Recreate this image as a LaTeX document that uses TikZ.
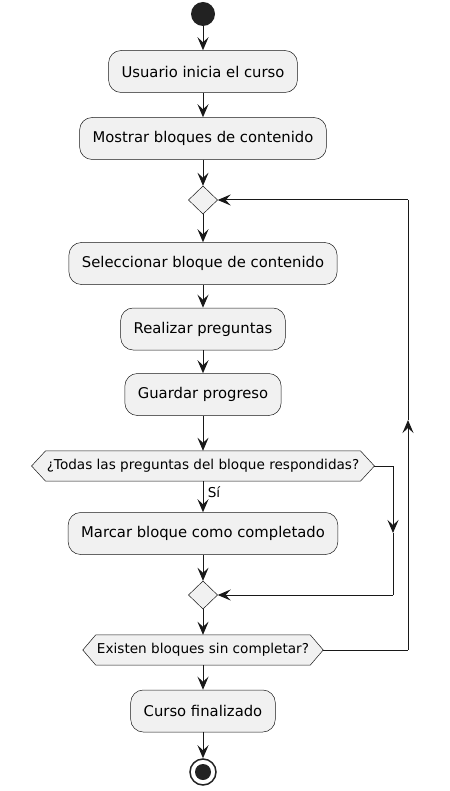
\documentclass[tikz,border=0pt]{standalone}
\usepackage{fontspec}
\setmainfont{DejaVu Sans}
\usetikzlibrary{arrows.meta,backgrounds}
\definecolor{ln}{HTML}{181818}
\definecolor{bx}{HTML}{F1F1F1}
\definecolor{dk}{HTML}{222222}
\tikzset{
  actbox/.style={draw=ln, line width=0.5pt, fill=bx, rounded corners=12.5pt, minimum height=42pt, inner xsep=13pt, inner ysep=0pt, font=\fontsize{14.8}{17}\selectfont},
  hexlabel/.style={inner xsep=1pt, inner ysep=0pt, minimum height=30pt, font=\fontsize{13.6}{16}\selectfont},
  hexline/.style={draw=ln, line width=0.5pt, fill=bx},
  mergedia/.style={draw=ln, line width=0.5pt, fill=bx, minimum width=29pt, minimum height=29pt, inner sep=0pt},
  arr/.style={draw=ln, line width=1pt, -{Stealth[length=13pt, width=11pt, inset=5pt]}},
  lnk/.style={draw=ln, line width=1pt},
}
\begin{document}
\begin{tikzpicture}[x=1pt, y=-1pt]
\useasboundingbox (0,0) rectangle (449,791);
\node[circle, fill=dk, minimum size=24pt, inner sep=0pt] (start) at (203,14) {};
\node[actbox] (b1) at (203,71.5) {Usuario inicia el curso};
\node[actbox] (b2) at (203,138.5) {Mostrar bloques de contenido};
\draw[mergedia] (203,186) -- (217.5,200) -- (203,214) -- (188.5,200) -- cycle;
\node[minimum width=29pt, minimum height=28pt, inner sep=0pt] (m1) at (203,200) {};
\node[actbox] (b3) at (203,263.5) {Seleccionar bloque de contenido};
\node[actbox] (b4) at (203,329) {Realizar preguntas};
\node[actbox] (b5) at (203,394.5) {Guardar progreso};
\node[hexlabel] (h1) at (203,466) {¿Todas las preguntas del bloque respondidas?};
\node[actbox] (b6) at (203,533.5) {Marcar bloque como completado};
\draw[mergedia] (203,581) -- (217.5,595) -- (203,609) -- (188.5,595) -- cycle;
\node[minimum width=29pt, minimum height=28pt, inner sep=0pt] (m2) at (203,595) {};
\node[hexlabel] (h2) at (203,650) {Existen bloques sin completar?};
\node[actbox] (b7) at (203,711) {Curso finalizado};
\node[circle, draw=dk, line width=1.5pt, fill=white, minimum size=26pt, inner sep=0pt] (stop) at (203,772) {};
\node[circle, fill=dk, minimum size=16pt, inner sep=0pt] at (stop) {};
\begin{scope}[on background layer]
\draw[hexline] (h1.north west) -- (h1.north east) -- ([xshift=14pt]h1.east) -- (h1.south east) -- (h1.south west) -- ([xshift=-14pt]h1.west) -- cycle;
\draw[hexline] (h2.north west) -- (h2.north east) -- ([xshift=13pt]h2.east) -- (h2.south east) -- (h2.south west) -- ([xshift=-13pt]h2.west) -- cycle;
\end{scope}
% main flow
\draw[arr] (start) -- (b1);
\draw[arr] (b1) -- (b2);
\draw[arr] (b2) -- (m1.north);
\draw[arr] (m1.south) -- (b3);
\draw[arr] (b3) -- (b4);
\draw[arr] (b4) -- (b5);
\draw[arr] (b5) -- (h1.north);
\draw[arr] (h1.south) -- node[right, pos=0.35, xshift=1pt, font=\fontsize{13.6}{16}\selectfont] {Sí} (b6);
\draw[arr] (b6) -- (m2.north);
\draw[arr] (m2.south) -- (h2.north);
\draw[arr] (h2.south) -- (b7);
\draw[arr] (b7) -- (stop);
% else branch of inner decision
\coordinate (r1a) at (393,466);
\coordinate (r1b) at (393,533);
\coordinate (r1c) at (393,595);
\draw[lnk] ([xshift=14pt]h1.east) -- (r1a);
\draw[arr] (r1a) -- (r1b);
\draw[lnk] (r1b) -- (r1c);
\draw[arr] (r1c) -- (m2.east);
% loop back
\coordinate (r2a) at (408,650);
\coordinate (r2b) at (408,420);
\coordinate (r2c) at (408,200);
\draw[lnk] ([xshift=13pt]h2.east) -- (r2a);
\draw[arr] (r2a) -- (r2b);
\draw[lnk] (r2b) -- (r2c);
\draw[arr] (r2c) -- (m1.east);
\end{tikzpicture}
\end{document}
